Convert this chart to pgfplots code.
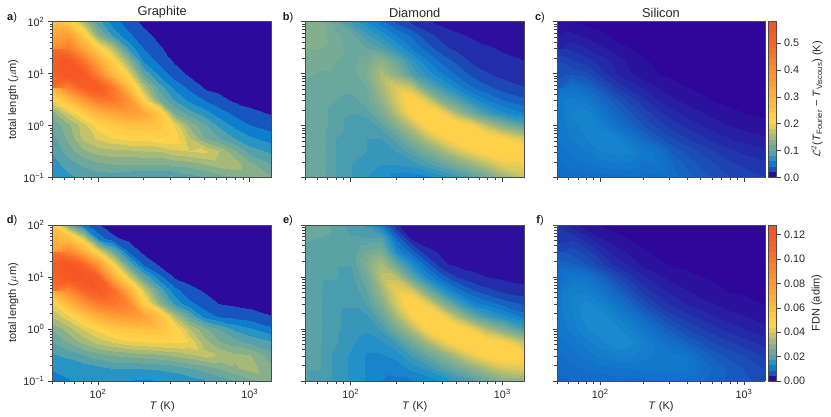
\documentclass[border=0pt]{standalone}
\usepackage{fontspec}
\setmainfont{Liberation Sans}
\usepackage{pgfplots}
\usepackage{pgfplotstable}
\pgfplotsset{compat=1.18}

\pgfplotsset{
  heatpanel/.style={
    /pgfplots/.cd,
    scale only axis, height=156pt,
    xmin=50, xmax=1400, ymin=0.1, ymax=100,
    view={0}{90}, axis on top,
    axis line style={draw=black!70, line width=0.9pt},
    tick style={draw=black!75, line width=0.6pt},
    tick align=outside, tick pos=left,
    major tick length=4.5pt, minor tick length=2.6pt,
    xtick={100,1000}, ytick={0.1,1,10,100},
    minor xtick={50,60,70,80,90,200,300,400,500,600,700,800,900},
    minor ytick={0.2,0.3,0.4,0.5,0.6,0.7,0.8,0.9,2,3,4,5,6,7,8,9,20,30,40,50,60,70,80,90},
    xticklabels={}, yticklabels={},
    tick label style={font=\fontsize{10.8}{12}\selectfont, text=black!85},
    label style={font=\fontsize{11}{12}\selectfont, text=black!85},
    title style={font=\fontsize{12.8}{14}\selectfont, text=black!85, yshift=-6pt},
    xlabel style={yshift=4pt}, ylabel style={yshift=-2pt},
  },
  cbar/.style={
    /pgfplots/.cd,
    scale only axis, width=8.5pt, height=156pt,
    xmin=0, xmax=1, view={0}{90}, axis on top,
    axis line style={draw=black!70, line width=0.9pt},
    tick style={draw=black!75, line width=0.6pt},
    tick align=outside, ytick pos=right, xtick=\empty,
    major tick length=4pt, scaled y ticks=false,
    tick label style={font=\fontsize{10.8}{12}\selectfont, text=black!85},
    label style={font=\fontsize{11}{12}\selectfont, text=black!85},
    yticklabel pos=right,
    ylabel style={at={(axis description cs:5.75,0.5)}, anchor=center},
  },
  botlabels/.style={/pgfplots/.cd, xticklabels={10\textsuperscript{2},10\textsuperscript{3}}, xlabel={\textit{T} (K)}},
  leftlabels/.style={/pgfplots/.cd, yticklabels={10\textsuperscript{−1},10\textsuperscript{0},10\textsuperscript{1},10\textsuperscript{2}}, ylabel={total length ($\mu$m)}},
}

% rows go from L=0.1 to L=100 (4 per decade), columns from T=50 to T=1400 (10 per decade)
\pgfplotstableread[row sep=crcr,header=false]{
0.065\\0.075\\0.085\\0.09\\0.09\\0.085\\0.08\\0.078\\0.08\\0.09\\0.10\\0.11\\0.12\\0.12\\0.12\\
0.07\\0.09\\0.105\\0.115\\0.12\\0.12\\0.12\\0.12\\0.125\\0.13\\0.14\\0.15\\0.155\\0.125\\0.10\\
0.082\\0.11\\0.135\\0.15\\0.155\\0.155\\0.16\\0.16\\0.175\\0.18\\0.185\\0.16\\0.125\\0.09\\0.075\\
0.092\\0.125\\0.165\\0.185\\0.20\\0.21\\0.21\\0.22\\0.215\\0.165\\0.12\\0.10\\0.08\\0.063\\0.05\\
0.105\\0.135\\0.17\\0.215\\0.24\\0.26\\0.26\\0.25\\0.20\\0.135\\0.105\\0.075\\0.055\\0.04\\0.03\\
0.13\\0.18\\0.23\\0.29\\0.33\\0.35\\0.33\\0.25\\0.12\\0.09\\0.07\\0.05\\0.035\\0.025\\0.018\\
0.20\\0.27\\0.36\\0.44\\0.45\\0.38\\0.22\\0.12\\0.08\\0.055\\0.04\\0.026\\0.017\\0.013\\0.009\\
0.30\\0.43\\0.52\\0.54\\0.44\\0.28\\0.16\\0.09\\0.055\\0.035\\0.018\\0.014\\0.011\\0.008\\0.005\\
0.47\\0.56\\0.54\\0.42\\0.28\\0.20\\0.10\\0.055\\0.03\\0.017\\0.012\\0.008\\0.006\\0.004\\0.003\\
0.53\\0.56\\0.46\\0.33\\0.22\\0.14\\0.06\\0.034\\0.018\\0.012\\0.01\\0.007\\0.005\\0.003\\0.002\\
0.47\\0.44\\0.33\\0.23\\0.16\\0.075\\0.04\\0.022\\0.014\\0.009\\0.006\\0.004\\0.003\\0.002\\0.001\\
0.38\\0.36\\0.24\\0.13\\0.075\\0.045\\0.026\\0.015\\0.01\\0.007\\0.005\\0.003\\0.002\\0.001\\0.001\\
0.27\\0.235\\0.16\\0.09\\0.05\\0.03\\0.016\\0.01\\0.006\\0.004\\0.003\\0.002\\0.001\\0.001\\0.001\\
}\graphiteL

\pgfplotstableread[row sep=crcr,header=false]{
0.105\\0.105\\0.09\\0.08\\0.07\\0.065\\0.055\\0.053\\0.056\\0.065\\0.075\\0.09\\0.11\\0.14\\0.17\\
0.105\\0.105\\0.09\\0.08\\0.075\\0.07\\0.07\\0.075\\0.085\\0.10\\0.12\\0.14\\0.165\\0.19\\0.195\\
0.105\\0.105\\0.09\\0.085\\0.08\\0.075\\0.08\\0.095\\0.115\\0.145\\0.175\\0.20\\0.22\\0.23\\0.225\\
0.105\\0.105\\0.09\\0.085\\0.08\\0.08\\0.095\\0.125\\0.16\\0.20\\0.225\\0.23\\0.225\\0.21\\0.175\\
0.105\\0.105\\0.095\\0.085\\0.08\\0.095\\0.125\\0.165\\0.215\\0.235\\0.225\\0.205\\0.16\\0.125\\0.09\\
0.105\\0.105\\0.095\\0.09\\0.095\\0.115\\0.16\\0.21\\0.23\\0.205\\0.15\\0.11\\0.08\\0.063\\0.05\\
0.105\\0.105\\0.10\\0.095\\0.105\\0.135\\0.18\\0.225\\0.185\\0.12\\0.09\\0.065\\0.05\\0.04\\0.032\\
0.105\\0.105\\0.105\\0.105\\0.11\\0.15\\0.185\\0.17\\0.105\\0.075\\0.055\\0.04\\0.032\\0.025\\0.02\\
0.105\\0.108\\0.108\\0.105\\0.12\\0.155\\0.13\\0.09\\0.068\\0.05\\0.038\\0.027\\0.021\\0.017\\0.014\\
0.12\\0.115\\0.11\\0.105\\0.115\\0.135\\0.105\\0.075\\0.052\\0.037\\0.027\\0.018\\0.015\\0.012\\0.01\\
0.12\\0.12\\0.115\\0.105\\0.10\\0.09\\0.07\\0.05\\0.036\\0.023\\0.017\\0.015\\0.011\\0.009\\0.008\\
0.125\\0.125\\0.112\\0.105\\0.083\\0.066\\0.05\\0.038\\0.024\\0.016\\0.012\\0.008\\0.006\\0.005\\0.004\\
0.13\\0.125\\0.105\\0.08\\0.062\\0.045\\0.028\\0.018\\0.012\\0.007\\0.003\\0.002\\0.001\\0.001\\0.001\\
}\diamondL

\pgfplotstableread[row sep=crcr,header=false]{
0.036\\0.037\\0.037\\0.038\\0.038\\0.039\\0.039\\0.039\\0.038\\0.034\\0.03\\0.027\\0.024\\0.022\\0.02\\
0.038\\0.042\\0.044\\0.046\\0.047\\0.047\\0.043\\0.044\\0.036\\0.031\\0.027\\0.024\\0.021\\0.019\\0.017\\
0.041\\0.045\\0.048\\0.052\\0.054\\0.053\\0.047\\0.042\\0.031\\0.027\\0.023\\0.02\\0.017\\0.015\\0.013\\
0.044\\0.048\\0.052\\0.055\\0.054\\0.045\\0.036\\0.029\\0.024\\0.02\\0.017\\0.014\\0.012\\0.01\\0.0085\\
0.046\\0.05\\0.054\\0.051\\0.043\\0.034\\0.028\\0.022\\0.018\\0.015\\0.012\\0.0095\\0.0078\\0.0065\\0.005\\
0.045\\0.052\\0.054\\0.046\\0.036\\0.029\\0.023\\0.017\\0.0135\\0.0105\\0.0085\\0.0065\\0.005\\0.004\\0.003\\
0.045\\0.05\\0.047\\0.037\\0.03\\0.023\\0.017\\0.012\\0.0088\\0.0065\\0.0048\\0.0036\\0.0028\\0.0022\\0.0016\\
0.041\\0.042\\0.036\\0.029\\0.0205\\0.015\\0.011\\0.0075\\0.0055\\0.004\\0.003\\0.0022\\0.0018\\0.0015\\0.001\\
0.03\\0.028\\0.025\\0.019\\0.013\\0.0085\\0.006\\0.004\\0.003\\0.002\\0.0016\\0.0012\\0.001\\0.0008\\0.0006\\
0.024\\0.021\\0.018\\0.014\\0.011\\0.007\\0.0045\\0.003\\0.002\\0.0015\\0.0012\\0.001\\0.001\\0.001\\0.001\\
0.017\\0.015\\0.012\\0.009\\0.006\\0.004\\0.0025\\0.0018\\0.0012\\0.001\\0.001\\0.001\\0.001\\0.001\\0.001\\
0.01\\0.009\\0.007\\0.005\\0.003\\0.002\\0.0015\\0.001\\0.001\\0.001\\0.001\\0.001\\0.001\\0.001\\0.001\\
0.006\\0.004\\0.003\\0.002\\0.001\\0.001\\0.001\\0.001\\0.0005\\0.0005\\0.0005\\0.0005\\0.0005\\0.0005\\0.0005\\
}\siliconL

\pgfplotstableread[row sep=crcr,header=false]{
0.012\\0.013\\0.014\\0.0145\\0.014\\0.013\\0.0125\\0.013\\0.014\\0.015\\0.017\\0.019\\0.022\\0.025\\0.028\\
0.0135\\0.014\\0.015\\0.0165\\0.018\\0.018\\0.018\\0.0185\\0.0195\\0.022\\0.024\\0.027\\0.03\\0.033\\0.027\\
0.017\\0.019\\0.022\\0.025\\0.027\\0.028\\0.029\\0.03\\0.032\\0.034\\0.037\\0.035\\0.032\\0.031\\0.024\\
0.022\\0.027\\0.032\\0.037\\0.04\\0.043\\0.044\\0.045\\0.045\\0.044\\0.033\\0.027\\0.024\\0.021\\0.018\\
0.027\\0.033\\0.04\\0.046\\0.053\\0.056\\0.058\\0.058\\0.05\\0.036\\0.028\\0.022\\0.017\\0.014\\0.0098\\
0.036\\0.043\\0.056\\0.068\\0.077\\0.08\\0.076\\0.058\\0.035\\0.022\\0.0115\\0.0082\\0.0072\\0.0062\\0.0045\\
0.043\\0.063\\0.082\\0.098\\0.10\\0.09\\0.052\\0.03\\0.0165\\0.01\\0.0064\\0.0042\\0.0036\\0.003\\0.0025\\
0.07\\0.09\\0.11\\0.118\\0.105\\0.07\\0.04\\0.021\\0.0105\\0.0056\\0.004\\0.003\\0.0024\\0.002\\0.0015\\
0.10\\0.122\\0.125\\0.115\\0.07\\0.042\\0.022\\0.0105\\0.0042\\0.003\\0.0022\\0.0018\\0.0015\\0.0012\\0.001\\
0.115\\0.125\\0.11\\0.08\\0.046\\0.022\\0.0085\\0.0036\\0.0025\\0.002\\0.0016\\0.0012\\0.001\\0.001\\0.0008\\
0.10\\0.09\\0.068\\0.043\\0.024\\0.0085\\0.0032\\0.0025\\0.0018\\0.0014\\0.001\\0.001\\0.0008\\0.0008\\0.0006\\
0.075\\0.06\\0.04\\0.0115\\0.0052\\0.0032\\0.0018\\0.0014\\0.001\\0.001\\0.0008\\0.0008\\0.0006\\0.0006\\0.0005\\
0.055\\0.027\\0.0105\\0.0048\\0.0024\\0.0016\\0.001\\0.001\\0.0008\\0.0008\\0.0006\\0.0006\\0.0005\\0.0005\\0.0005\\
}\graphiteF

\pgfplotstableread[row sep=crcr,header=false]{
0.02\\0.019\\0.017\\0.015\\0.013\\0.011\\0.0105\\0.0105\\0.0115\\0.013\\0.016\\0.019\\0.023\\0.027\\0.03\\
0.02\\0.02\\0.017\\0.015\\0.013\\0.0115\\0.012\\0.014\\0.016\\0.02\\0.024\\0.029\\0.034\\0.039\\0.041\\
0.02\\0.02\\0.017\\0.015\\0.013\\0.013\\0.014\\0.018\\0.022\\0.028\\0.035\\0.042\\0.048\\0.05\\0.048\\
0.02\\0.02\\0.018\\0.016\\0.014\\0.015\\0.018\\0.024\\0.032\\0.042\\0.049\\0.051\\0.05\\0.047\\0.036\\
0.02\\0.02\\0.018\\0.017\\0.016\\0.018\\0.025\\0.034\\0.046\\0.051\\0.05\\0.044\\0.034\\0.027\\0.018\\
0.02\\0.02\\0.018\\0.017\\0.017\\0.022\\0.033\\0.045\\0.051\\0.046\\0.034\\0.023\\0.017\\0.014\\0.0098\\
0.02\\0.02\\0.018\\0.018\\0.02\\0.027\\0.04\\0.05\\0.043\\0.028\\0.018\\0.012\\0.0098\\0.0078\\0.006\\
0.02\\0.02\\0.019\\0.018\\0.022\\0.032\\0.043\\0.04\\0.025\\0.015\\0.0098\\0.0068\\0.005\\0.0038\\0.0028\\
0.02\\0.02\\0.02\\0.019\\0.024\\0.036\\0.036\\0.022\\0.013\\0.0078\\0.0044\\0.0029\\0.0022\\0.0018\\0.0014\\
0.02\\0.02\\0.02\\0.02\\0.027\\0.034\\0.023\\0.014\\0.0078\\0.0025\\0.0017\\0.0014\\0.0012\\0.001\\0.001\\
0.021\\0.021\\0.021\\0.02\\0.024\\0.026\\0.013\\0.0075\\0.0028\\0.0018\\0.0012\\0.001\\0.001\\0.001\\0.001\\
0.021\\0.022\\0.021\\0.02\\0.02\\0.02\\0.0085\\0.002\\0.001\\0.001\\0.001\\0.001\\0.001\\0.001\\0.001\\
0.024\\0.024\\0.021\\0.019\\0.017\\0.011\\0.0025\\0.001\\0.001\\0.001\\0.001\\0.001\\0.001\\0.001\\0.001\\
}\diamondF

\pgfplotstableread[row sep=crcr,header=false]{
0.0078\\0.0079\\0.008\\0.0081\\0.0081\\0.0083\\0.0085\\0.0087\\0.0087\\0.0085\\0.008\\0.0074\\0.0068\\0.0064\\0.0057\\
0.0081\\0.0086\\0.009\\0.0093\\0.0097\\0.0097\\0.01\\0.0101\\0.0101\\0.01\\0.0087\\0.0077\\0.0068\\0.0061\\0.0052\\
0.0086\\0.0093\\0.01\\0.0109\\0.0113\\0.0116\\0.0109\\0.0103\\0.01\\0.0097\\0.0078\\0.0066\\0.0059\\0.0052\\0.0042\\
0.0092\\0.0101\\0.0112\\0.012\\0.0132\\0.0127\\0.0113\\0.0099\\0.0085\\0.0072\\0.0061\\0.0052\\0.0045\\0.0039\\0.0031\\
0.0099\\0.0109\\0.0122\\0.0132\\0.013\\0.0116\\0.01\\0.008\\0.0066\\0.0054\\0.0045\\0.0038\\0.0032\\0.0027\\0.002\\
0.0101\\0.0113\\0.013\\0.0132\\0.0116\\0.0099\\0.0078\\0.0061\\0.0047\\0.0039\\0.0032\\0.0026\\0.0021\\0.0018\\0.0013\\
0.0101\\0.0116\\0.0127\\0.0116\\0.0097\\0.0076\\0.0057\\0.0042\\0.0032\\0.0026\\0.002\\0.0017\\0.0013\\0.0011\\0.0008\\
0.01\\0.0111\\0.0111\\0.0097\\0.0076\\0.0057\\0.004\\0.003\\0.0022\\0.0018\\0.0013\\0.0011\\0.0008\\0.0007\\0.0006\\
0.0092\\0.0101\\0.0097\\0.0076\\0.0057\\0.004\\0.0028\\0.002\\0.0014\\0.0012\\0.0009\\0.0007\\0.0006\\0.0005\\0.0004\\
0.0075\\0.0072\\0.0062\\0.0048\\0.0034\\0.0024\\0.0015\\0.001\\0.0008\\0.0006\\0.0005\\0.0004\\0.0004\\0.0003\\0.0003\\
0.0062\\0.0058\\0.0048\\0.0034\\0.0023\\0.0015\\0.001\\0.0007\\0.0005\\0.0004\\0.0003\\0.0003\\0.0003\\0.0003\\0.0003\\
0.0048\\0.0042\\0.003\\0.0018\\0.0012\\0.0008\\0.0005\\0.0004\\0.0003\\0.0003\\0.0003\\0.0003\\0.0003\\0.0003\\0.0003\\
0.0035\\0.0022\\0.0012\\0.0008\\0.0006\\0.0004\\0.0003\\0.0002\\0.0002\\0.0002\\0.0002\\0.0002\\0.0002\\0.0002\\0.0002\\
}\siliconF

% contour bands: coarse for graphite, finer for diamond, finest for silicon
\pgfplotsset{
  colormap={bandsA}{
    rgb255(0pt)=(45,10,155) rgb255(19.8pt)=(45,10,155)
    rgb255(20pt)=(25,85,190) rgb255(39.8pt)=(25,85,190)
    rgb255(40pt)=(15,125,205) rgb255(59.8pt)=(15,125,205)
    rgb255(60pt)=(40,148,195) rgb255(79.8pt)=(40,148,195)
    rgb255(80pt)=(85,160,170) rgb255(99.8pt)=(85,160,170)
    rgb255(100pt)=(110,168,155) rgb255(119.8pt)=(110,168,155)
    rgb255(120pt)=(135,175,140) rgb255(139.8pt)=(135,175,140)
    rgb255(140pt)=(165,185,120) rgb255(159.8pt)=(165,185,120)
    rgb255(160pt)=(195,195,105) rgb255(179.8pt)=(195,195,105)
    rgb255(180pt)=(230,205,85) rgb255(199.8pt)=(230,205,85)
    rgb255(200pt)=(255,210,75) rgb255(219.8pt)=(255,210,75)
    rgb255(220pt)=(255,205,72) rgb255(239.8pt)=(255,205,72)
    rgb255(240pt)=(255,198,68) rgb255(259.8pt)=(255,198,68)
    rgb255(260pt)=(255,190,65) rgb255(279.8pt)=(255,190,65)
    rgb255(280pt)=(255,182,62) rgb255(299.8pt)=(255,182,62)
    rgb255(300pt)=(255,174,58) rgb255(319.8pt)=(255,174,58)
    rgb255(320pt)=(255,166,56) rgb255(339.8pt)=(255,166,56)
    rgb255(340pt)=(255,158,54) rgb255(359.8pt)=(255,158,54)
    rgb255(360pt)=(255,150,52) rgb255(379.8pt)=(255,150,52)
    rgb255(380pt)=(255,142,50) rgb255(399.8pt)=(255,142,50)
    rgb255(400pt)=(253,134,48) rgb255(419.8pt)=(253,134,48)
    rgb255(420pt)=(252,126,46) rgb255(439.8pt)=(252,126,46)
    rgb255(440pt)=(251,118,44) rgb255(459.8pt)=(251,118,44)
    rgb255(460pt)=(250,110,42) rgb255(479.8pt)=(250,110,42)
    rgb255(480pt)=(249,103,40) rgb255(499.8pt)=(249,103,40)
    rgb255(500pt)=(248,97,38) rgb255(519.8pt)=(248,97,38)
    rgb255(520pt)=(247,92,37) rgb255(539.8pt)=(247,92,37)
    rgb255(540pt)=(246,88,36) rgb255(580pt)=(245,85,35)
  }
}
\pgfplotsset{
  colormap={bandsB}{
    rgb255(0pt)=(44,15,156) rgb255(9.8pt)=(44,15,156)
    rgb255(10pt)=(35,45,170) rgb255(19.8pt)=(35,45,170)
    rgb255(20pt)=(27,72,181) rgb255(29.8pt)=(27,72,181)
    rgb255(30pt)=(21,98,194) rgb255(39.8pt)=(21,98,194)
    rgb255(40pt)=(20,118,201) rgb255(49.8pt)=(20,118,201)
    rgb255(50pt)=(23,132,204) rgb255(59.8pt)=(23,132,204)
    rgb255(60pt)=(35,144,199) rgb255(69.8pt)=(35,144,199)
    rgb255(70pt)=(55,151,186) rgb255(79.8pt)=(55,151,186)
    rgb255(80pt)=(74,157,175) rgb255(89.8pt)=(74,157,175)
    rgb255(90pt)=(91,162,165) rgb255(99.8pt)=(91,162,165)
    rgb255(100pt)=(106,167,156) rgb255(109.8pt)=(106,167,156)
    rgb255(110pt)=(119,171,149) rgb255(119.8pt)=(119,171,149)
    rgb255(120pt)=(131,175,141) rgb255(129.8pt)=(131,175,141)
    rgb255(130pt)=(144,178,134) rgb255(139.8pt)=(144,178,134)
    rgb255(140pt)=(158,182,125) rgb255(149.8pt)=(158,182,125)
    rgb255(150pt)=(174,187,117) rgb255(159.8pt)=(174,187,117)
    rgb255(160pt)=(190,192,108) rgb255(169.8pt)=(190,192,108)
    rgb255(170pt)=(207,197,99) rgb255(179.8pt)=(207,197,99)
    rgb255(180pt)=(222,202,91) rgb255(189.8pt)=(222,202,91)
    rgb255(190pt)=(235,205,83) rgb255(199.8pt)=(235,205,83)
    rgb255(200pt)=(249,208,78) rgb255(209.8pt)=(249,208,78)
    rgb255(210pt)=(255,208,74) rgb255(580pt)=(255,208,74)
  }
}
\pgfplotsset{
  colormap={bandsC}{
    rgb255(0pt)=(46,6,152) rgb255(3.9pt)=(46,6,152)
    rgb255(4pt)=(42,18,157) rgb255(7.9pt)=(42,18,157)
    rgb255(8pt)=(39,30,162) rgb255(11.9pt)=(39,30,162)
    rgb255(12pt)=(35,42,167) rgb255(15.9pt)=(35,42,167)
    rgb255(16pt)=(32,54,172) rgb255(19.9pt)=(32,54,172)
    rgb255(20pt)=(29,66,177) rgb255(23.9pt)=(29,66,177)
    rgb255(24pt)=(26,78,182) rgb255(27.9pt)=(26,78,182)
    rgb255(28pt)=(24,90,187) rgb255(31.9pt)=(24,90,187)
    rgb255(32pt)=(21,100,192) rgb255(35.9pt)=(21,100,192)
    rgb255(36pt)=(19,108,197) rgb255(39.9pt)=(19,108,197)
    rgb255(40pt)=(18,114,201) rgb255(43.9pt)=(18,114,201)
    rgb255(44pt)=(19,120,202) rgb255(47.9pt)=(19,120,202)
    rgb255(48pt)=(20,126,203) rgb255(51.9pt)=(20,126,203)
    rgb255(52pt)=(22,132,204) rgb255(55.9pt)=(22,132,204)
    rgb255(56pt)=(24,138,205) rgb255(580pt)=(24,138,205)
  }
}
% the last column sits at T=1400, the others at 0.1 decade steps from T=50
\newcommand{\fieldplot}[1]{\addplot3[surf, shader=interp, mesh/cols=15] table[
  x index=0, y index=0, z index=0,
  x expr={pow(10,1.69897+0.1*mod(\coordindex,15)+0.04716*floor((mod(\coordindex,15)+0.5)/14))},
  y expr={pow(10,-1+0.25*floor(\coordindex/15))},
  z expr={\thisrowno{0}}] {#1};}

\begin{document}
\begin{tikzpicture}[x=1pt,y=1pt]
\path[use as bounding box] (0,0) rectangle (831,417);

% top row
\begin{loglogaxis}[heatpanel, leftlabels, width=219.5pt, at={(52.4pt,239.5pt)}, title={Graphite},
  colormap name=bandsA, point meta min=0, point meta max=0.58]
\fieldplot{\graphiteL}
\end{loglogaxis}
\begin{loglogaxis}[heatpanel, width=219.5pt, at={(305pt,239.5pt)}, title={Diamond},
  colormap name=bandsB, point meta min=0, point meta max=0.58]
\fieldplot{\diamondL}
\end{loglogaxis}
\begin{loglogaxis}[heatpanel, width=208pt, at={(557pt,239.5pt)}, title={Silicon},
  colormap name=bandsC, point meta min=0, point meta max=0.58]
\fieldplot{\siliconL}
\end{loglogaxis}
\begin{axis}[cbar, at={(768pt,239.5pt)}, ymin=0, ymax=0.58,
  ytick={0,0.1,0.2,0.3,0.4,0.5}, yticklabels={0.0,0.1,0.2,0.3,0.4,0.5},
  ylabel={$\mathcal{L}^2$(\textit{T}\textsubscript{Fourier} − \textit{T}\textsubscript{Viscous}) (K)},
  colormap name=bandsA, point meta min=0, point meta max=0.58]
\addplot3[surf, shader=interp, mesh/cols=2] coordinates {(0,0,0) (1,0,0) (0,0.58,0.58) (1,0.58,0.58)};
\end{axis}

% bottom row
\begin{loglogaxis}[heatpanel, leftlabels, botlabels, width=219.5pt, at={(52.4pt,36pt)},
  colormap name=bandsA, point meta min=0, point meta max=0.128]
\fieldplot{\graphiteF}
\end{loglogaxis}
\begin{loglogaxis}[heatpanel, botlabels, width=219.5pt, at={(305pt,36pt)},
  colormap name=bandsB, point meta min=0, point meta max=0.128]
\fieldplot{\diamondF}
\end{loglogaxis}
\begin{loglogaxis}[heatpanel, botlabels, width=208pt, at={(557pt,36pt)},
  colormap name=bandsC, point meta min=0, point meta max=0.128]
\fieldplot{\siliconF}
\end{loglogaxis}
\begin{axis}[cbar, at={(768pt,36pt)}, ymin=0, ymax=0.128,
  ytick={0,0.02,0.04,0.06,0.08,0.10,0.12}, yticklabels={0.00,0.02,0.04,0.06,0.08,0.10,0.12},
  ylabel={FDN (adim)},
  colormap name=bandsA, point meta min=0, point meta max=0.128]
\addplot3[surf, shader=interp, mesh/cols=2] coordinates {(0,0,0) (1,0,0) (0,0.128,0.128) (1,0.128,0.128)};
\end{axis}

% panel letters
\foreach \lab/\px/\py in {a/12/399,b/288/399,c/540/399,d/12/196,e/288/196,f/540/196}
  \node[font=\fontsize{11}{12}\selectfont, text=black!90, inner sep=0pt] at (\px,\py) {\textbf{\lab})};
\end{tikzpicture}
\end{document}
